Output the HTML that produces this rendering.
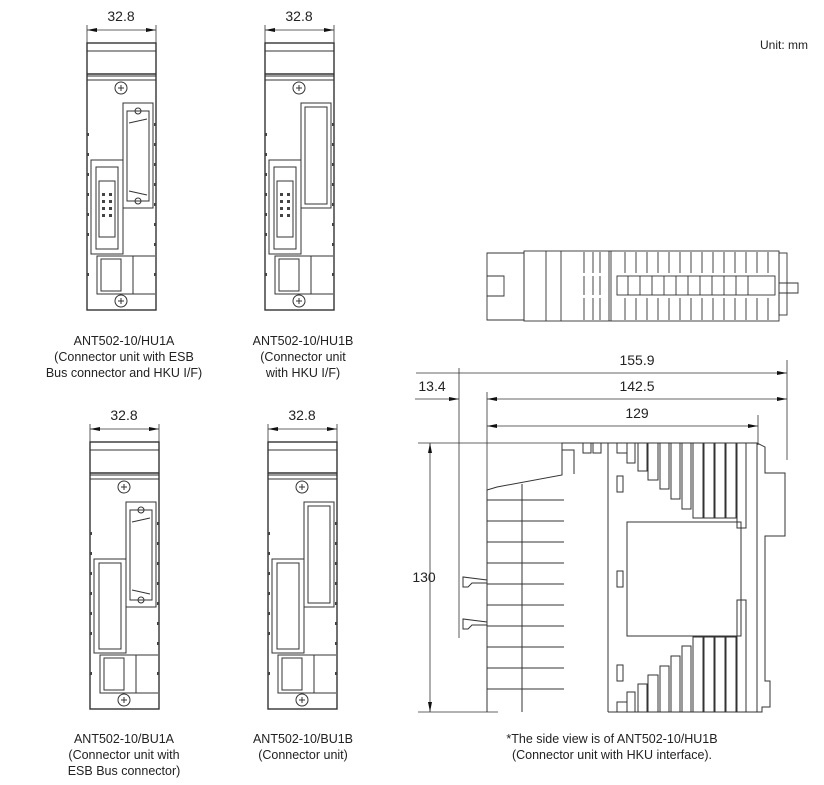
<!DOCTYPE html>
<html><head><meta charset="utf-8"><style>
body{margin:0;background:#fff}
svg{display:block}
text{font-family:"Liberation Sans",Arial,sans-serif;fill:#222}
</style></head><body>
<svg width="824" height="785" viewBox="0 0 824 785" xmlns="http://www.w3.org/2000/svg">
<defs>
<marker id="a" viewBox="0 0 10 4" refX="10" refY="2" markerWidth="10" markerHeight="4" orient="auto-start-reverse" markerUnits="userSpaceOnUse"><path d="M0,0 L10,2 L0,4z" fill="#111"/></marker>
<g id="base" fill="none" stroke="#333" stroke-width="1">
<rect x="0" y="0" width="69" height="267" stroke-width="1.4"/>
<line x1="0" y1="8" x2="69" y2="8"/>
<line x1="0" y1="31" x2="69" y2="31" stroke-width="1.4"/>
<line x1="0" y1="33" x2="69" y2="33"/>
<line x1="0" y1="37" x2="69" y2="37"/>
<circle cx="34" cy="45" r="6"/><path d="M31,45h6M34,42v6"/>
<circle cx="34" cy="258" r="6"/><path d="M31,258h6M34,255v6"/>
<rect x="10" y="213" width="36" height="38"/><rect x="14" y="216" width="20" height="32"/>
<path d="M46,213h22M46,251h22"/>
<g stroke="#444" stroke-width="2"><path d="M1,90v3M1,110v3M1,130v3M1,150v3M1,170v3M1,190v3M1,230v3M68,80v3M68,100v3M68,120v3M68,140v3M68,160v3M68,180v3M68,200v3M68,230v3"/></g>
</g>
<g id="dsub" fill="none" stroke="#333">
<rect x="36" y="60" width="30" height="105"/><rect x="40" y="68" width="22" height="90"/>
<circle cx="51" cy="68" r="3"/><circle cx="51" cy="158" r="3"/><path d="M42,80l18,-4M42,148l18,4"/>
</g>
<g id="slot" fill="none" stroke="#333">
<rect x="36" y="60" width="30" height="105"/><rect x="40" y="64" width="22" height="97"/>
</g>
<g id="hku" fill="none" stroke="#333">
<rect x="4" y="117" width="32" height="94"/><rect x="9" y="124" width="22" height="82"/>
<rect x="12" y="138" width="16" height="56"/>
<g fill="#444" stroke="none"><rect x="15" y="150" width="3" height="3"/><rect x="22" y="150" width="3" height="3"/><rect x="15" y="157" width="3" height="3"/><rect x="22" y="157" width="3" height="3"/><rect x="15" y="164" width="3" height="3"/><rect x="22" y="164" width="3" height="3"/><rect x="15" y="171" width="3" height="3"/><rect x="22" y="171" width="3" height="3"/></g>
</g>
<g id="esb" fill="none" stroke="#333">
<rect x="4" y="117" width="32" height="94"/><rect x="9" y="121" width="22" height="86"/>
</g>
</defs>

<g transform="translate(87,43)"><use href="#base"/><use href="#dsub"/><use href="#hku"/></g>
<g transform="translate(265,43)"><use href="#base"/><use href="#slot"/><use href="#hku"/></g>
<g transform="translate(90,442)"><use href="#base"/><use href="#dsub"/><use href="#esb"/></g>
<g transform="translate(268,442)"><use href="#base"/><use href="#slot"/><use href="#esb"/></g>

<g stroke="#333" stroke-width="0.8" fill="none">
<path d="M87,25v18M156,25v18M265,25v18M334,25v18M90,424v18M159,424v18M268,424v18M337,424v18"/>
<line x1="87" y1="30" x2="156" y2="30" marker-start="url(#a)" marker-end="url(#a)"/>
<line x1="265" y1="30" x2="334" y2="30" marker-start="url(#a)" marker-end="url(#a)"/>
<line x1="90" y1="429" x2="159" y2="429" marker-start="url(#a)" marker-end="url(#a)"/>
<line x1="268" y1="429" x2="337" y2="429" marker-start="url(#a)" marker-end="url(#a)"/>
</g>
<g font-size="14" text-anchor="middle">
<text x="121" y="21">32.8</text><text x="299" y="21">32.8</text>
<text x="124" y="420">32.8</text><text x="302" y="420">32.8</text>
</g>
<g font-size="12.5" text-anchor="middle">
<text x="124" y="345">ANT502-10/HU1A</text><text x="124" y="361">(Connector unit with ESB</text><text x="124" y="377">Bus connector and HKU I/F)</text>
<text x="303" y="345">ANT502-10/HU1B</text><text x="303" y="361">(Connector unit</text><text x="303" y="377">with HKU I/F)</text>
<text x="124" y="743">ANT502-10/BU1A</text><text x="124" y="759">(Connector unit with</text><text x="124" y="775">ESB Bus connector)</text>
<text x="303" y="743">ANT502-10/BU1B</text><text x="303" y="759">(Connector unit)</text>
<text x="612" y="743">*The side view is of ANT502-10/HU1B</text><text x="612" y="759">(Connector unit with HKU interface).</text>
</g>
<text x="760" y="49" font-size="12">Unit: mm</text>

<g fill="none" stroke="#333" stroke-width="0.9">
<path d="M487,253h37v67h-37z"/><path d="M487,276h17v20h-17"/>
<rect x="524" y="251" width="255" height="70"/>
<path d="M546,251v70M561,251v70M609,251v70M611,251v70"/>
<path d="M584,252v21M593,252v21M600,252v21M584,276v19M593,276v19M600,276v19M584,298v22M593,298v22M600,298v22"/>
<rect x="617" y="276" width="158" height="19"/>
<path d="M625,252v21M636,252v21M647,252v21M658,252v21M669,252v21M680,252v21M691,252v21M702,252v21M713,252v21M724,252v21M735,252v21M746,252v21M757,252v21M768,252v21"/>
<path d="M625,298v22M636,298v22M647,298v22M658,298v22M669,298v22M680,298v22M691,298v22M702,298v22M713,298v22M724,298v22M735,298v22M746,298v22M757,298v22M768,298v22"/>
<path d="M628,276v19M640,276v19M652,276v19M664,276v19M676,276v19M688,276v19M700,276v19M712,276v19M724,276v19M736,276v19M748,276v19"/>
<rect x="779" y="253" width="8" height="62"/><path d="M779,283h19v10h-19"/>
</g>

<g stroke="#333" stroke-width="0.8" fill="none">
<path d="M459,368v270M487,392v100M787,360v100M758,415v30"/>
<line x1="416" y1="373" x2="787" y2="373" marker-end="url(#a)"/>
<line x1="487" y1="399" x2="787" y2="399" marker-start="url(#a)" marker-end="url(#a)"/>
<line x1="487" y1="426" x2="758" y2="426" marker-start="url(#a)" marker-end="url(#a)"/>
<line x1="415" y1="399" x2="459" y2="399" marker-end="url(#a)"/>
<path d="M418,443h145M418,712h80"/>
<line x1="430" y1="443" x2="430" y2="712" marker-start="url(#a)" marker-end="url(#a)"/>
</g>
<g font-size="14" text-anchor="middle">
<text x="637" y="365">155.9</text><text x="637" y="391">142.5</text><text x="637" y="418">129</text>
<text x="432" y="391">13.4</text><text x="424" y="582">130</text>
</g>

<g fill="none" stroke="#333" stroke-width="1">
<path d="M487,712V490l10,-3 65,-12V443h195l8,4v26h20v63h-20v145h5v26h-8v5H608"/>
<path d="M757,443v269M608,443v269M522,484v228"/>
<path d="M562,450h12v24"/>
<path d="M583,443v10h8v-10M593,443v10h8v-10"/>
<rect x="627" y="522" width="114" height="114"/>
<g stroke-width="0.9">
<path d="M487,500h77M487,521h77M487,542h77M487,563h77M487,584h77M487,605h77M487,626h77M487,647h77M487,668h77M487,689h77"/>
</g>
<path d="M617,443v10h10v-10M627,443v20h8v-20M638,443v28h9v-28M648,443v37h10v-37M660,443v46h9v-46M671,443v56h9v-56M682,443v66h9v-66M693,443v75h10v-75M704,443v75h10v-75M715,443v75h10v-75M726,443v75h10v-75M737,443v85h9v-85"/>
<path d="M617,712v-10h10v10M627,712v-20h8v20M638,712v-28h9v28M648,712v-37h10v37M660,712v-46h9v46M671,712v-56h9v56M682,712v-66h9v66M693,712v-75h10v75M704,712v-75h10v75M715,712v-75h10v75M726,712v-75h10v75M737,712v-112h9v112"/>
<rect x="617" y="476" width="6" height="16"/><rect x="617" y="571" width="6" height="16"/><rect x="617" y="665" width="6" height="16"/>
<path d="M487,580l-24,-3v10h5l4,-4 15,0M487,622l-24,-3v10h5l4,-4 15,0"/>
</g>
</svg>
</body></html>
